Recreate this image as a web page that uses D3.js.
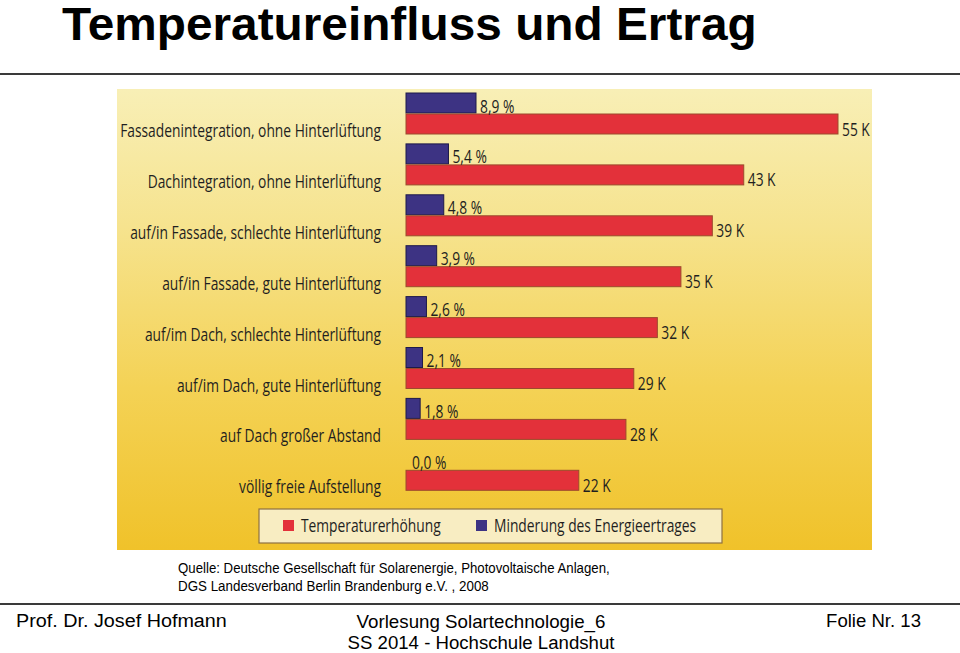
<!DOCTYPE html>
<html>
<head>
<meta charset="utf-8">
<script src="https://cdn.jsdelivr.net/npm/d3@7"></script>
<style>
  html, body { margin: 0; padding: 0; background: #fff; }
  svg { display: block; }
</style>
</head>
<body>
<svg id="chart" width="960" height="653"></svg>
<script>
// ---- data ----
const categories = [
  "Fassadenintegration, ohne Hinterlüftung",
  "Dachintegration, ohne Hinterlüftung",
  "auf/in Fassade, schlechte Hinterlüftung",
  "auf/in Fassade, gute Hinterlüftung",
  "auf/im Dach, schlechte Hinterlüftung",
  "auf/im Dach, gute Hinterlüftung",
  "auf Dach großer Abstand",
  "völlig freie Aufstellung"
];
const temperatureRise = [55, 43, 39, 35, 32, 29, 28, 22];          // K
const yieldLoss       = [8.9, 5.4, 4.8, 3.9, 2.6, 2.1, 1.8, 0.0];  // %
const legendLabels = ["Temperaturerhöhung", "Minderung des Energieertrages"];
const titleText = "Temperatureinfluss und Ertrag";
const sourceLines = [
  "Quelle: Deutsche Gesellschaft für Solarenergie, Photovoltaische Anlagen,",
  "DGS Landesverband Berlin Brandenburg e.V. , 2008"
];
const footerLeft = "Prof. Dr. Josef Hofmann";
const footerCenter = ["Vorlesung Solartechnologie_6", "SS 2014 - Hochschule Landshut"];
const footerRight = "Folie Nr. 13";

// ---- style ----
const RED = "#e3313a", RED_EDGE = "#9c4a2c";
const BLUE = "#3d3383", BLUE_EDGE = "#1e1a4a";
const chartFont = "'Open Sans', 'Noto Sans', sans-serif";
const slideFont = "'Liberation Sans Narrow', 'Arial Narrow', 'Liberation Sans', Arial, sans-serif";

const svg = d3.select("#chart");
const defs = svg.append("defs");
const grad = defs.append("linearGradient").attr("id", "bg").attr("x1", 0).attr("y1", 0).attr("x2", 0).attr("y2", 1);
grad.append("stop").attr("offset", "0%").attr("stop-color", "#f8efb6");
grad.append("stop").attr("offset", "30%").attr("stop-color", "#f6e38e");
grad.append("stop").attr("offset", "65%").attr("stop-color", "#f4d255");
grad.append("stop").attr("offset", "100%").attr("stop-color", "#f0c22a");

// helper: condense a text horizontally so it spans the given width
function fit(sel, x, yPos, width, anchor) {
  const w = sel.node().getComputedTextLength();
  const s = width / w;
  sel.attr("x", 0).attr("y", 0).attr("text-anchor", anchor || "start")
    .attr("transform", `translate(${x},${yPos}) scale(${s},1)`);
  return sel;
}

// slide title + rules
const title = svg.append("text")
  .attr("font-family", slideFont).attr("font-weight", "bold").attr("font-size", 46)
  .attr("fill", "#000").text(titleText);
fit(title, 62, 40, 695);

svg.append("line").attr("x1", 0).attr("x2", 960).attr("y1", 74).attr("y2", 74)
  .attr("stroke", "#3a3a3a").attr("stroke-width", 2);
svg.append("line").attr("x1", 0).attr("x2", 960).attr("y1", 604).attr("y2", 604)
  .attr("stroke", "#3a3a3a").attr("stroke-width", 2);

// chart background (scanned figure)
const panel = { x: 117, y: 89, w: 755, h: 461 };
svg.append("rect").attr("x", panel.x).attr("y", panel.y).attr("width", panel.w).attr("height", panel.h)
  .attr("fill", "url(#bg)");

// scales
const y = d3.scaleBand().domain(categories).range([93, 93 + 8 * 50.9]).padding(0);
const xK = d3.scaleLinear().domain([0, 55]).range([406, 838]);
const xP = d3.scaleLinear().domain([0, 8.9]).range([406, 476]);
const barH = 20;

const rows = svg.append("g").selectAll("g").data(categories).join("g");

// blue bars (yield loss)
rows.append("rect")
  .attr("x", xP(0)).attr("y", d => y(d))
  .attr("width", (d, i) => xP(yieldLoss[i]) - xP(0)).attr("height", barH)
  .attr("fill", BLUE).attr("stroke", (d, i) => yieldLoss[i] > 0 ? BLUE_EDGE : "none").attr("stroke-width", 1);

// red bars (temperature rise)
rows.append("rect")
  .attr("x", xK(0)).attr("y", d => y(d) + 21)
  .attr("width", (d, i) => xK(temperatureRise[i]) - xK(0)).attr("height", barH)
  .attr("fill", RED).attr("stroke", RED_EDGE).attr("stroke-width", 1);

const fmt = v => d3.format(".1f")(v).replace(".", ",") + " %";
const labelSize = 18.5;
const inkColor = "#1f1f1f";

// category labels
const catLabels = rows.append("text")
  .attr("text-anchor", "end")
  .attr("font-family", chartFont).attr("font-size", labelSize).attr("fill", inkColor)
  .text(d => d);
const squeeze = 261 / catLabels.node().getComputedTextLength();
catLabels.attr("transform", d => `translate(381,${y(d) + 44}) scale(${squeeze},1)`);

// percent labels
rows.append("text")
  .attr("transform", (d, i) => `translate(${xP(yieldLoss[i]) + (yieldLoss[i] > 0 ? 4 : 6)},${y(d) + 19.5}) scale(${squeeze},1)`)
  .attr("font-family", chartFont).attr("font-size", labelSize).attr("fill", inkColor)
  .text((d, i) => fmt(yieldLoss[i]));

// K labels
rows.append("text")
  .attr("transform", (d, i) => `translate(${xK(temperatureRise[i]) + 4},${y(d) + 42.5}) scale(${squeeze},1)`)
  .attr("font-family", chartFont).attr("font-size", labelSize).attr("fill", inkColor)
  .text((d, i) => temperatureRise[i] + " K");

// legend
const lg = svg.append("g");
lg.append("rect").attr("x", 259).attr("y", 509).attr("width", 463).attr("height", 34)
  .attr("fill", "#f8edc2").attr("stroke", "#8e7142").attr("stroke-width", 1.2);
const legendItems = [
  { label: legendLabels[0], color: RED, x: 283 },
  { label: legendLabels[1], color: BLUE, x: 476 }
];
legendItems.forEach(it => {
  lg.append("rect").attr("x", it.x).attr("y", 520).attr("width", 11).attr("height", 11).attr("fill", it.color);
  lg.append("text")
    .attr("transform", `translate(${it.x + 18},532) scale(${squeeze},1)`)
    .attr("font-family", chartFont).attr("font-size", labelSize).attr("fill", inkColor)
    .text(it.label);
});

// source
const srcWidths = [432, 311];
sourceLines.forEach((s, i) => {
  const t = svg.append("text")
    .attr("font-family", slideFont).attr("font-size", 14.5).attr("fill", "#000").text(s);
  fit(t, 178, 573 + i * 18, srcWidths[i]);
});

// footer
fit(svg.append("text").attr("font-family", slideFont).attr("font-size", 19).attr("fill", "#000").text(footerLeft),
    16, 627, 211);
const centerWidths = [249, 267];
const centerBase = [628, 648.5];
footerCenter.forEach((s, i) => {
  fit(svg.append("text").attr("font-family", slideFont).attr("font-size", 18).attr("fill", "#000").text(s),
      481, centerBase[i], centerWidths[i], "middle");
});
fit(svg.append("text").attr("font-family", slideFont).attr("font-size", 19).attr("fill", "#000").text(footerRight),
    921, 627, 95, "end");
</script>
</body>
</html>
